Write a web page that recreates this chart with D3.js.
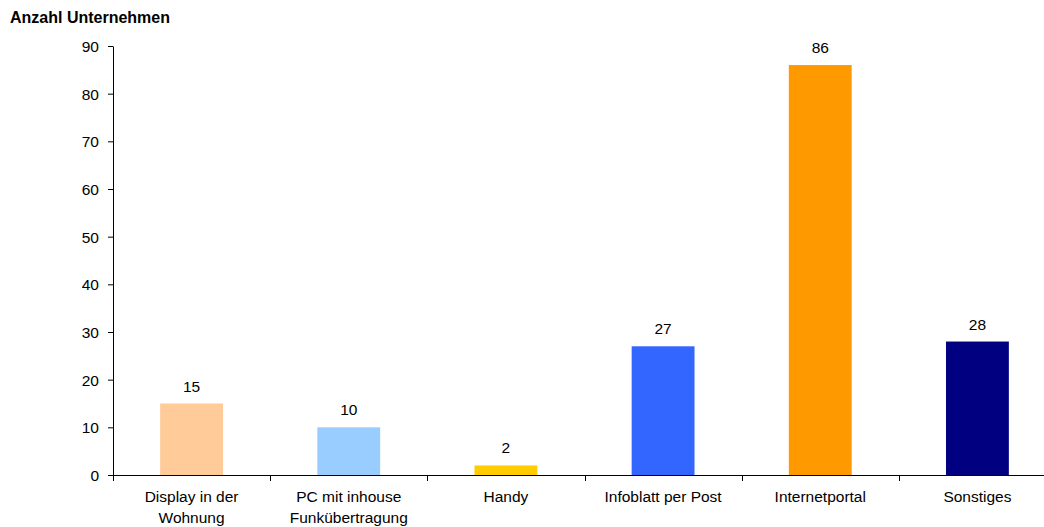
<!DOCTYPE html>
<html><head><meta charset="utf-8">
<script src="https://cdn.jsdelivr.net/npm/d3@7"></script>
<style>
body{margin:0;background:#fff;}
text{font-family:"Liberation Sans",Arial,sans-serif;fill:#000;}
</style></head>
<body><svg id="c" width="1044" height="527"></svg>
<script>
const categories = [["Display in der","Wohnung"],["PC mit inhouse","Funkübertragung"],["Handy"],["Infoblatt per Post"],["Internetportal"],["Sonstiges"]];
const values = [15,10,2,27,86,28];
const colors = ["#FFCC99","#99CCFF","#FFCC00","#3366FF","#FF9900","#000080"];
const yTicks = [0,10,20,30,40,50,60,70,80,90];
const yTitle = "Anzahl Unternehmen";

const svg = d3.select("#c");
const x0 = 113, x1 = 1056, yTop = 46, yBot = 475;
const x = d3.scaleBand().domain(d3.range(categories.length)).range([x0,x1]).paddingInner(0).paddingOuter(0);
const y = d3.scaleLinear().domain([0,90]).range([yBot,yTop]);
const bw = x.bandwidth()*0.4;
const fs = "15.5px";

svg.selectAll("rect.bar").data(values).enter().append("rect")
  .attr("x",(d,i)=>x(i)+x.bandwidth()/2-bw/2)
  .attr("y",d=>y(d)).attr("width",bw).attr("height",d=>yBot-y(d))
  .attr("fill",(d,i)=>colors[i]);

svg.selectAll("text.val").data(values).enter().append("text")
  .attr("x",(d,i)=>x(i)+x.bandwidth()/2).attr("y",d=>y(d)-12)
  .attr("text-anchor","middle").style("font-size",fs).text(d=>d);

const gy = svg.append("g").attr("transform",`translate(${x0},0)`)
  .call(d3.axisLeft(y).tickValues(yTicks).tickSize(5).tickPadding(9).tickSizeOuter(0));
gy.select(".domain").attr("stroke","#000");
gy.selectAll(".tick line").attr("stroke","#000");
gy.selectAll("text").style("font-size",fs).style("font-family","'Liberation Sans',Arial,sans-serif").attr("dy","0.35em");

svg.append("line").attr("x1",x0).attr("x2",x1).attr("y1",yBot+0.5).attr("y2",yBot+0.5).attr("stroke","#000");
const bounds = d3.range(categories.length+1).map(i=> i<categories.length ? x(i) : x1);
svg.selectAll("line.xt").data(bounds).enter().append("line")
  .attr("x1",d=>Math.round(d)+0.5).attr("x2",d=>Math.round(d)+0.5)
  .attr("y1",yBot).attr("y2",yBot+6).attr("stroke","#000");

categories.forEach((lines,i)=>{
  const t = svg.append("text").attr("text-anchor","middle").style("font-size",fs);
  lines.forEach((l,j)=>{
    t.append("tspan").attr("x",x(i)+x.bandwidth()/2).attr("y",502+j*21).text(l);
  });
});

svg.append("text").attr("x",10).attr("y",23).style("font-size","16px").style("font-weight","bold").text(yTitle);
</script></body></html>
